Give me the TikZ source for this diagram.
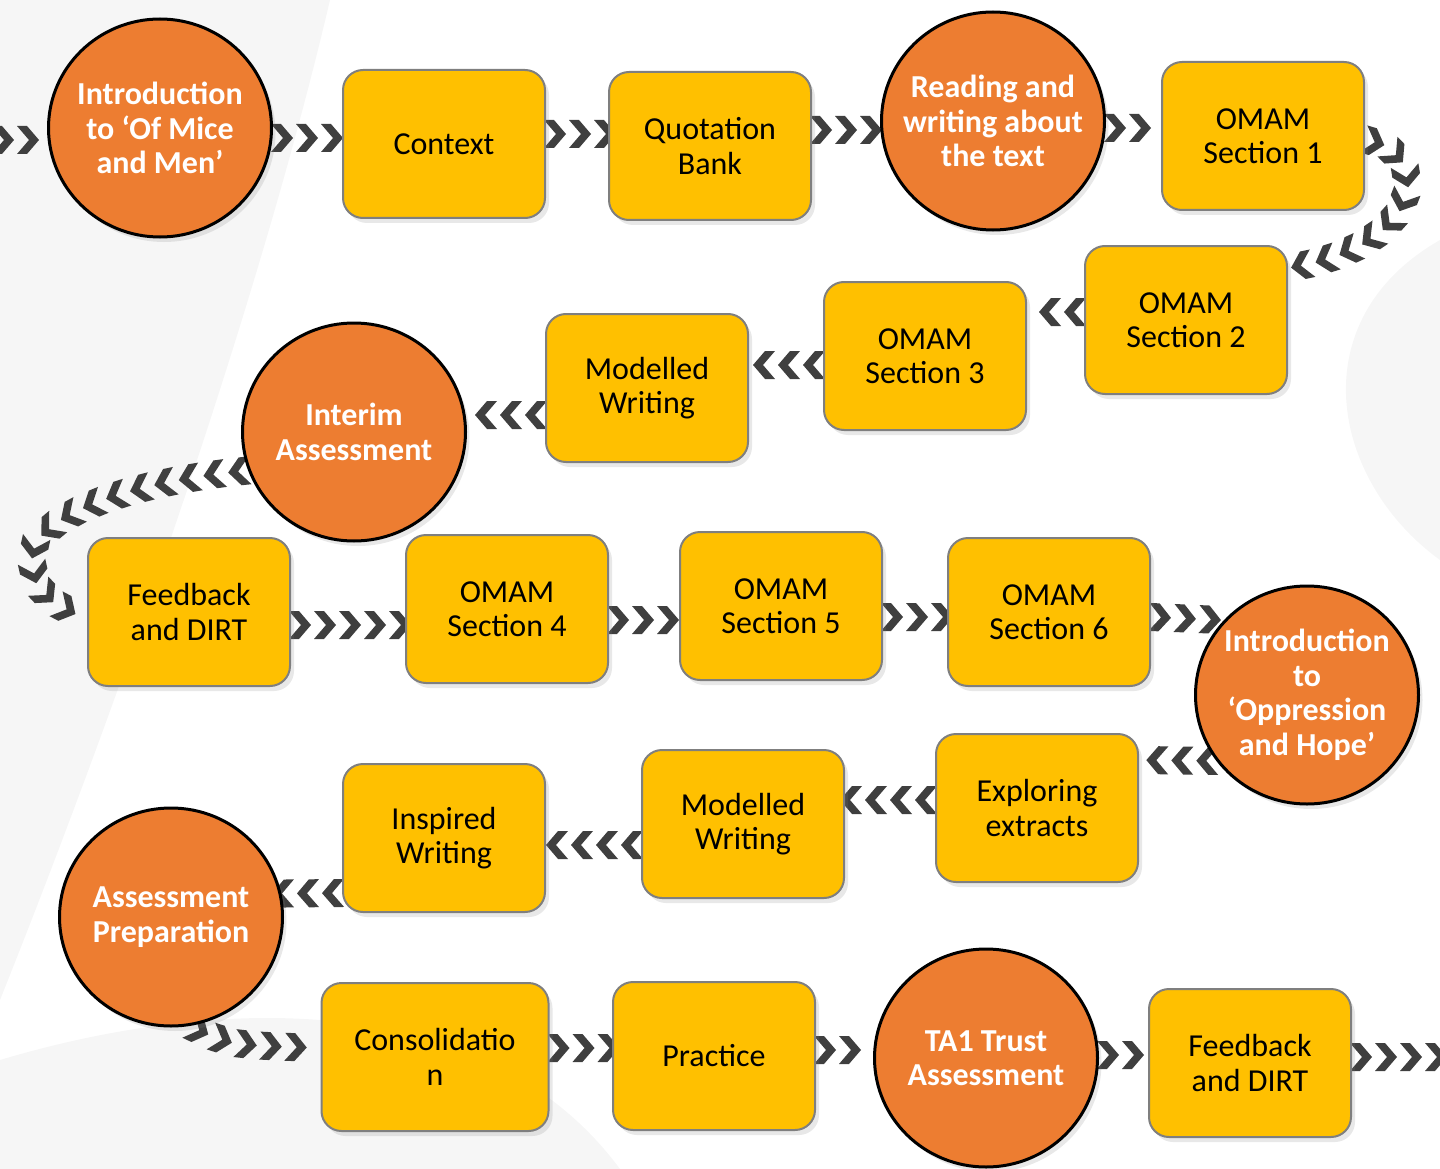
\documentclass[tikz,border=0pt]{standalone}
\usepackage{fontspec}
\setmainfont{Carlito}
\usepackage{tikz}
\usetikzlibrary{shapes.geometric,shadows,decorations.markings}

\pgfdeclarelayer{watermark}
\pgfdeclarelayer{background}
\pgfsetlayers{watermark,background,main}

\definecolor{lessonfill}{HTML}{FFC000}
\definecolor{lessonedge}{HTML}{7F7F7F}
\definecolor{milestonefill}{HTML}{ED7D31}
\definecolor{chevgrey}{HTML}{3F3F3F}
\definecolor{markgrey}{HTML}{F6F6F6}

\tikzset{
  lesson/.style={draw=lessonedge, line width=2pt, fill=lessonfill, rounded corners=20pt,
    minimum width=202pt, minimum height=148pt, align=center,
    font=\fontsize{32}{34.5}\selectfont,
    drop shadow={shadow xshift=4pt, shadow yshift=-5pt, opacity=0.18}},
  milestone/.style={ellipse, draw=black, line width=3pt, fill=milestonefill,
    minimum width=223pt, minimum height=218pt, inner sep=-30pt, align=center, text=white,
    font=\fontsize{32}{34.5}\selectfont\bfseries,
    drop shadow={shadow xshift=4pt, shadow yshift=-5pt, opacity=0.18}},
  chevrons/.style={decorate, decoration={markings,
    mark=between positions 9pt and 1 step 25pt with
      {\fill[chevgrey] (-11pt,14pt) -- (-1pt,14pt) -- (11pt,0pt) -- (-1pt,-14pt)
        -- (-11pt,-14pt) -- (1pt,0pt) -- cycle;}}}
}

\begin{document}
\begin{tikzpicture}[x=1pt,y=-1pt]
\useasboundingbox (0,0) rectangle (1440,1169);

% row 1
\node[milestone] (intro) at (160,128) {Introduction\\to ‘Of Mice\\and Men’};
\node[lesson] (context) at (444,144) {Context};
\node[lesson] (quotation) at (710,146) {Quotation\\Bank};
\node[milestone] (reading) at (993,121) {Reading and\\writing about\\the text};
\node[lesson] (omamone) at (1263,136) {OMAM\\Section 1};

% row 2
\node[lesson] (omamtwo) at (1186,320) {OMAM\\Section 2};
\node[lesson] (omamthree) at (925,356) {OMAM\\Section 3};
\node[lesson] (modelled) at (647,388) {Modelled\\Writing};
\node[milestone] (interim) at (354,432) {Interim\\Assessment};

% row 3
\node[lesson] (feedback) at (189,612) {Feedback\\and DIRT};
\node[lesson] (omamfour) at (507,609) {OMAM\\Section 4};
\node[lesson] (omamfive) at (781,606) {OMAM\\Section 5};
\node[lesson] (omamsix) at (1049,612) {OMAM\\Section 6};
\node[milestone] (introopp) at (1307,695) {Introduction\\to\\‘Oppression\\and Hope’};

% row 4
\node[lesson] (exploring) at (1037,808) {Exploring\\extracts};
\node[lesson] (modelledtwo) at (743,824) {Modelled\\Writing};
\node[lesson] (inspired) at (444,838) {Inspired\\Writing};
\node[milestone] (assessprep) at (171,917) {Assessment\\Preparation};

% row 5
\node[lesson, minimum width=227pt] (consolidation) at (435,1057) {Consolidatio\\n};
\node[lesson] (practice) at (714,1056) {Practice};
\node[milestone] (taone) at (986,1058) {TA1 Trust\\Assessment};
\node[lesson] (feedbacktwo) at (1250,1063) {Feedback\\and DIRT};

\coordinate (entry) at (-6,140);
\coordinate (exit) at (1445,1057);

\begin{pgfonlayer}{watermark}
  \fill[markgrey] (0,0) -- (330,0) .. controls (260,300) and (120,700) .. (0,1000) -- cycle;
  \fill[markgrey] (0,1169) -- (0,1060) .. controls (200,1000) and (480,980) .. (620,1169) -- cycle;
  \fill[markgrey] (1440,240) .. controls (1300,320) and (1330,480) .. (1440,560) -- cycle;
\end{pgfonlayer}

\begin{pgfonlayer}{background}
% left to right
\foreach \a/\b/\y in {intro/context/138, context/quotation/134, quotation/reading/130,
    reading/omamone/128, feedback/omamfour/625, omamfour/omamfive/620,
    omamfive/omamsix/617, consolidation/practice/1048, practice/taone/1050,
    taone/feedbacktwo/1055}{
  \path[chevrons] (\a.east |- 0,\y) -- (\b.west |- 0,\y);
}
% right to left
\foreach \a/\b/\y in {omamtwo/omamthree/312, omamthree/modelled/365, modelled/interim/415,
    exploring/modelledtwo/800, modelledtwo/inspired/845}{
  \path[chevrons] (\a.west |- 0,\y) -- (\b.east |- 0,\y);
}
\path[chevrons] (entry) -- (intro.west |- entry);
\path[chevrons] (omamone.east |- 0,140) .. controls (1430,150) and (1430,245) .. (omamtwo.east |- 0,268);
\path[chevrons] (interim.200) .. controls (150,480) and (60,505) .. (35,545)
  .. controls (25,585) and (50,605) .. (feedback.west |- 0,618);
\path[chevrons] (omamsix.east |- 0,617) -- (introopp.138);
\path[chevrons] (introopp.216) -- (exploring.east |- 0,760);
\path[chevrons] (inspired.west |- 0,893) -- (assessprep.12);
\path[chevrons] (assessprep.-80) .. controls (230,1045) .. (consolidation.west |- 0,1048);
\path[chevrons] (feedbacktwo.east |- exit) -- (exit);
\end{pgfonlayer}
\end{tikzpicture}
\end{document}
